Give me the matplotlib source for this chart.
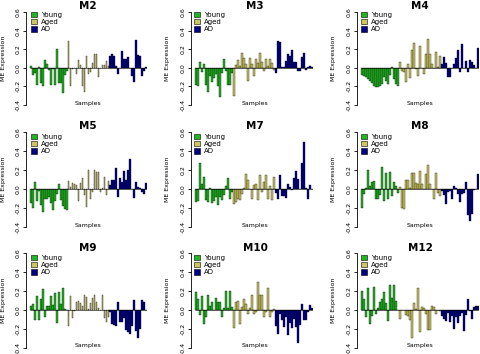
import numpy as np
import matplotlib
matplotlib.use("Agg")
import matplotlib.pyplot as plt

plt.rcParams['axes.unicode_minus'] = False
plt.rcParams['font.family'] = ['DejaVu Sans']

# module eigengene values per sample
modules = ['M2', 'M3', 'M4', 'M5', 'M7', 'M8', 'M9', 'M10', 'M12']

young = {
    'M2': [0.02, -0.08, -0.06, -0.18, 0.01, -0.16, -0.20, 0.08, 0.04, -0.02, -0.19, -0.01, -0.18, 0.20, -0.16, -0.16, -0.27, -0.08, -0.03],
    'M3': [-0.19, -0.20, 0.06, -0.04, 0.04, -0.18, -0.26, -0.09, -0.15, -0.11, -0.07, -0.20, -0.31, -0.06, 0.09, -0.03, -0.19, -0.19, -0.06],
    'M4': [-0.08, -0.09, -0.10, -0.12, -0.14, -0.16, -0.20, -0.21, -0.21, -0.20, -0.17, -0.10, -0.14, -0.17, -0.08, 0.01, -0.12, -0.17, -0.20],
    'M5': [-0.15, -0.20, 0.07, -0.13, -0.02, -0.17, -0.24, -0.10, -0.10, -0.08, -0.15, -0.22, -0.13, -0.05, 0.05, -0.12, -0.18, -0.21, -0.22],
    'M7': [-0.14, -0.13, 0.27, 0.05, 0.13, -0.12, -0.14, 0.01, -0.15, -0.13, -0.08, -0.17, -0.08, -0.12, -0.06, 0.03, 0.12, -0.11, -0.03],
    'M8': [-0.20, -0.05, 0.01, 0.20, 0.03, 0.07, 0.08, -0.11, -0.11, -0.06, 0.23, -0.13, 0.17, -0.11, 0.18, -0.07, 0.07, 0.03, -0.04],
    'M9': [0.04, 0.06, -0.11, 0.15, -0.10, 0.12, 0.22, -0.07, 0.04, 0.04, 0.15, 0.05, 0.18, -0.14, 0.19, 0.06, 0.23, 0.01, 0.00],
    'M10': [0.19, 0.12, -0.05, 0.15, -0.15, -0.07, 0.16, 0.04, 0.08, 0.00, 0.13, 0.08, 0.08, -0.07, 0.02, 0.20, 0.02, 0.20, 0.03],
    'M12': [0.20, 0.12, -0.07, 0.23, -0.15, -0.06, 0.24, -0.04, 0.02, 0.08, 0.12, 0.19, 0.07, -0.12, 0.26, 0.13, 0.26, 0.09, 0.00],
}

aged = {
    'M2': [0.29, -0.20, -0.01, 0.00, -0.07, 0.08, 0.03, -0.20, -0.26, 0.13, -0.07, -0.05, 0.05, 0.15, 0.15, -0.10, 0.00, 0.03, 0.03, 0.07, 0.02],
    'M3': [-0.30, 0.03, 0.08, 0.02, 0.16, 0.11, 0.04, -0.14, 0.11, 0.04, -0.09, 0.09, 0.05, 0.16, 0.06, -0.03, 0.09, 0.02, 0.10, 0.05, -0.02],
    'M4': [0.06, -0.03, -0.04, -0.15, 0.04, -0.11, 0.19, 0.27, -0.01, -0.09, 0.23, 0.00, -0.07, 0.15, 0.31, 0.15, 0.04, 0.00, 0.17, 0.01, 0.13],
    'M5': [0.08, 0.02, 0.06, 0.05, 0.04, -0.13, 0.06, 0.12, -0.06, -0.19, 0.20, -0.10, -0.03, 0.20, 0.18, 0.18, -0.03, 0.01, 0.13, -0.06, 0.08],
    'M7': [-0.16, -0.14, -0.10, -0.12, -0.05, 0.01, 0.16, 0.10, 0.00, -0.10, 0.04, 0.05, -0.12, 0.15, -0.03, 0.07, 0.15, -0.10, 0.03, -0.12, 0.13],
    'M8': [0.02, -0.20, -0.21, 0.09, 0.09, 0.01, 0.17, 0.17, 0.06, 0.05, 0.19, 0.05, 0.00, 0.16, 0.25, 0.05, 0.00, -0.10, 0.17, -0.04, -0.07],
    'M9': [-0.17, 0.15, -0.08, -0.01, 0.08, 0.09, 0.07, 0.04, 0.16, 0.14, 0.01, 0.07, 0.13, 0.16, 0.08, 0.02, 0.00, 0.16, -0.08, -0.13, -0.07],
    'M10': [-0.19, 0.08, 0.09, -0.15, 0.03, 0.12, 0.06, -0.04, 0.02, 0.16, -0.04, -0.02, 0.29, 0.16, 0.16, -0.07, -0.02, 0.23, -0.07, -0.02, 0.01],
    'M12': [-0.09, 0.00, 0.00, -0.05, -0.06, -0.10, -0.29, 0.07, 0.01, 0.23, -0.23, 0.03, 0.02, -0.04, -0.21, -0.21, 0.04, 0.03, -0.04, 0.00, -0.01],
}

ad = {
    'M2': [0.13, 0.15, 0.13, 0.02, -0.07, 0.00, 0.18, 0.10, 0.10, 0.12, 0.00, -0.09, -0.15, 0.30, 0.14, 0.13, -0.09, -0.03, 0.01],
    'M3': [-0.06, 0.29, 0.28, 0.01, 0.01, 0.07, 0.15, 0.13, 0.19, 0.06, 0.06, -0.03, -0.03, 0.12, 0.16, -0.02, 0.01, 0.02, 0.01],
    'M4': [0.04, 0.12, 0.05, -0.10, -0.10, 0.00, 0.04, 0.11, 0.19, -0.05, 0.26, 0.00, 0.07, -0.04, 0.08, 0.06, 0.03, 0.00, 0.21],
    'M5': [0.04, 0.10, 0.10, 0.22, -0.08, 0.12, 0.07, 0.19, 0.10, 0.20, 0.32, 0.00, -0.09, 0.07, 0.02, 0.01, -0.03, -0.05, 0.06],
    'M7': [-0.04, -0.10, 0.15, -0.07, -0.07, -0.09, 0.05, 0.02, -0.01, 0.12, 0.19, 0.11, 0.00, 0.27, 0.49, 0.01, -0.10, 0.04, 0.00],
    'M8': [-0.02, -0.06, -0.16, -0.03, -0.02, -0.10, 0.03, 0.01, -0.05, -0.14, -0.05, -0.04, 0.07, -0.27, -0.34, -0.26, -0.01, 0.00, 0.16],
    'M9': [-0.02, -0.15, -0.16, -0.17, 0.08, -0.13, -0.13, -0.08, -0.21, -0.23, -0.25, -0.17, 0.11, -0.22, -0.29, -0.20, 0.11, 0.08, 0.00],
    'M10': [-0.17, -0.25, -0.04, -0.11, -0.18, -0.07, -0.26, -0.14, -0.19, -0.09, -0.18, -0.35, -0.16, 0.06, -0.10, -0.10, -0.02, 0.05, 0.02],
    'M12': [-0.06, -0.09, -0.12, -0.03, -0.13, -0.06, -0.20, -0.07, -0.14, -0.06, -0.03, -0.22, -0.05, 0.12, -0.01, -0.09, 0.03, 0.04, 0.04],
}

groups = ['Young', 'Aged', 'AD']
colors = {'Young': '#22b522', 'Aged': '#cdc660', 'AD': '#000085'}
yticks = [-0.4, -0.2, 0.0, 0.2, 0.4, 0.6]

W, H = 480, 354
fig = plt.figure(figsize=(W / 100, H / 100), dpi=100)

# pixel layout per column: y spine, first bar, last bar, title centre, ylabel x, legend x
col_px = [(26, 30, 147, 88, 4, 31), (191, 195, 313, 255, 168, 194), (357, 361, 479, 420, 334, 361)]
# pixel y per row: 0.6, -0.4, title, "Samples", legend top
row_px = [(12, 105, 6, 103, 12), (132, 227, 126, 225, 134), (253, 348, 248, 345, 255)]

for k, mod in enumerate(modules):
    r, c = divmod(k, 3)
    spine_x, xb0, xb1, xc, ylab_x, leg_x = col_px[c]
    y_top, y_bot, title_y, samp_y, leg_y = row_px[r]
    vals = young[mod] + aged[mod] + ad[mod]
    cols = ([colors['Young']] * len(young[mod]) + [colors['Aged']] * len(aged[mod])
            + [colors['AD']] * len(ad[mod]))
    n = len(vals)
    pitch = (xb1 - xb0) / n
    scale = (y_bot - y_top) / 1.0
    ylo, yhi = -0.44, 0.64
    ax_top = y_top - (yhi - 0.6) * scale
    ax_bot = y_bot + (-0.4 - ylo) * scale
    ax = fig.add_axes([spine_x / W, 1 - ax_bot / H, (xb1 - spine_x) / W, (ax_bot - ax_top) / H])
    ax.set_xlim(-0.5 - (xb0 - spine_x) / pitch, n - 0.5)
    ax.set_ylim(ylo, yhi)
    ax.bar(np.arange(n), vals, width=0.83, color=cols, edgecolor='black', linewidth=0.25)
    ax.hlines(0, -0.45, n - 0.55, color='black', linewidth=0.4)

    for s in ['top', 'right', 'bottom']:
        ax.spines[s].set_visible(False)
    ax.spines['left'].set_bounds(-0.4, 0.6)
    ax.spines['left'].set_linewidth(0.6)
    ax.set_xticks([])
    ax.set_yticks(yticks)
    ax.set_yticklabels(['%.1f' % t for t in yticks], rotation=90, va='center', fontsize=4.5)
    ax.tick_params(axis='y', length=2.5, width=0.6, pad=1.5)

    fig.text(xc / W, 1 - title_y / H, mod, fontsize=7.5, fontweight='bold', ha='center', va='center')
    fig.text(xc / W, 1 - samp_y / H, 'Samples', fontsize=4.5, ha='center', va='center')
    fig.text(ylab_x / W, 1 - (y_top + y_bot) / 2 / H, 'ME Expression', fontsize=4.5,
             rotation=90, ha='center', va='center')

    handles = [plt.Rectangle((0, 0), 1, 1, facecolor=colors[g], edgecolor='black', linewidth=0.4)
               for g in groups]
    ax.legend(handles, groups, loc='upper left', bbox_to_anchor=(leg_x / W, 1 - leg_y / H),
              bbox_transform=fig.transFigure, frameon=False, borderaxespad=0, borderpad=0,
              fontsize=5, handlelength=0.8, handleheight=0.8, handletextpad=0.6,
              labelspacing=0.15)

fig.savefig('out.png', dpi=100)
